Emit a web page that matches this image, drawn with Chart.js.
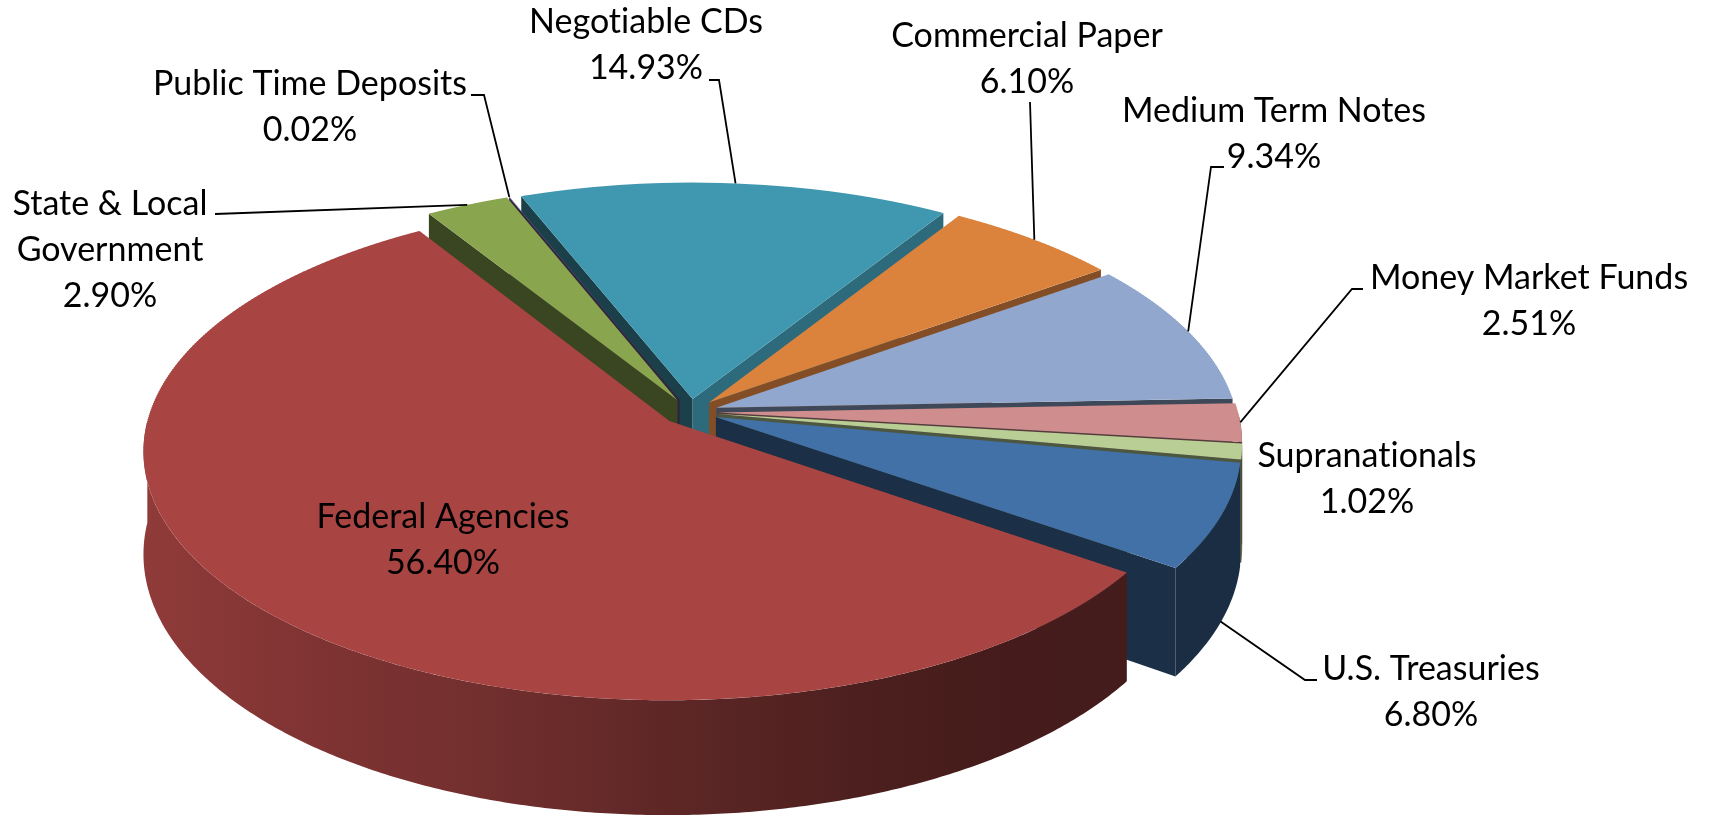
<!DOCTYPE html>
<html>
<head>
<meta charset="utf-8">
<title>Portfolio by security type</title>
<script src="https://cdn.jsdelivr.net/npm/chart.js@4.4.0/dist/chart.umd.min.js"></script>
<style>
  html, body { margin: 0; padding: 0; background: #fff; }
  #wrap { width: 1712px; height: 817px; }
</style>
</head>
<body>
<div id="wrap"><canvas id="chart" width="1712" height="817"></canvas></div>
<script>
// data, in the workbook's series order
const categories = [
    'U.S. Treasuries', 'Federal Agencies', 'State & Local\nGovernment', 'Public Time Deposits',
    'Negotiable CDs', 'Commercial Paper', 'Medium Term Notes', 'Money Market Funds', 'Supranationals'
];
const shares = [6.80, 56.40, 2.90, 0.02, 14.93, 6.10, 9.34, 2.51, 1.02];
const sliceColors = ['#4171A7', '#A84543', '#89A54E', '#71588F', '#4098B0', '#DB833D', '#91A7CE', '#CF8E8D', '#B8CE95'];

// 3d view: where the pie centre lands, tilt, perspective, thickness, explosion
const view = { cx: 690, cy: 412, kx: 1, ky: 0.47, persp: 4468, depth: 101, explode: 28 };
const STRIP = 2;

// shading of the round walls by screen x (lighter on the left)
const wallShade = [[140, 0.86], [300, 0.76], [480, 0.68], [667, 0.56], [850, 0.46], [1000, 0.41], [1250, 0.40]];

// label placement: text centre, first baseline, leader tick [from, elbow, y], anchor depth
const labelSpots = [
    { x: 1431, y: 680, tick: [1317, 1305, 680], z: 100 },
    { x: 443, y: 528 },
    { x: 110, y: 215, tick: [215, 215, 214], z: 0 },
    { x: 310, y: 95, tick: [471, 484, 95], z: 0 },
    { x: 646, y: 33, tick: [709, 719, 80], z: 0 },
    { x: 1027, y: 47, tick: [1030, 1030, 102], z: 0 },
    { x: 1274, y: 122, tick: [1224, 1211, 167], z: 0 },
    { x: 1529, y: 289, tick: [1363, 1352, 289], z: 0 },
    { x: 1367, y: 467 }
];
const LINE_H = 46;
const FONT = '34px Lato';

function hexToRgb(hex) {
    const n = parseInt(hex.slice(1), 16);
    return [(n >> 16) & 255, (n >> 8) & 255, n & 255];
}

function rgbStr(rgb, b) {
    return 'rgb(' + rgb.map(c => Math.round(c * b)).join(',') + ')';
}

// plane point (relative to pie centre) -> screen
function project(u, w, z) {
    const s = 1 / (1 - w / view.persp);
    return [view.cx + view.kx * u * s, view.cy + (view.ky * w + z) * s];
}

function sliceGeom(arc) {
    const mid = (arc.startAngle + arc.endAngle) / 2;
    return {
        a0: arc.startAngle,
        a1: arc.endAngle,
        mid: mid,
        r: arc.outerRadius,
        ox: Math.cos(mid) * view.explode,
        oy: Math.sin(mid) * view.explode
    };
}

function edgeShade(phi) {
    phi = ((phi % 360) + 360) % 360;
    if (phi < 124) return 0.7;
    if (phi < 180) return 0.42 + 0.28 * (180 - phi) / 56;
    return 0.42;
}

function drawWalls(ctx, geo) {
    const walls = [];
    const D = view.depth;

    geo.forEach((g, i) => {
        const rgb = hexToRgb(sliceColors[i]);

        // round outer wall, front part only
        const n = Math.max(2, Math.ceil((g.a1 - g.a0) / (Math.PI / 360)));
        const angles = [];
        for (let k = 0; k <= n; k++) {
            const t = g.a0 + (g.a1 - g.a0) * k / n;
            if (Math.sin(t) > 0) angles.push(t);
        }
        if (angles.length > 1) {
            const tm = angles[Math.floor(angles.length / 2)];
            walls.push({ key: g.oy + g.r * Math.sin(tm), draw: () => {
                const top = angles.map(t => project(g.ox + g.r * Math.cos(t), g.oy + g.r * Math.sin(t), 0));
                const bot = angles.map(t => project(g.ox + g.r * Math.cos(t), g.oy + g.r * Math.sin(t), D)).reverse();
                const grad = ctx.createLinearGradient(wallShade[0][0], 0, wallShade[wallShade.length - 1][0], 0);
                const span = wallShade[wallShade.length - 1][0] - wallShade[0][0];
                wallShade.forEach(([x, b]) => grad.addColorStop((x - wallShade[0][0]) / span, rgbStr(rgb, b)));
                ctx.fillStyle = grad;
                ctx.beginPath();
                top.concat(bot).forEach((p, k) => k ? ctx.lineTo(p[0], p[1]) : ctx.moveTo(p[0], p[1]));
                ctx.closePath();
                ctx.fill();
            }});
        }

        // flat cut walls seen through the gaps
        const edges = [];
        if (Math.cos(g.a0) < 0) edges.push({ ang: g.a0, phi: g.a0 * 180 / Math.PI });
        if (Math.cos(g.a1) > 0) edges.push({ ang: g.a1, phi: g.a1 * 180 / Math.PI + 180 });
        edges.forEach(e => {
            walls.push({ key: g.oy + g.r / 2 * Math.sin(e.ang), draw: () => {
                const cu = g.ox + g.r * Math.cos(e.ang), cw = g.oy + g.r * Math.sin(e.ang);
                const pts = [project(g.ox, g.oy, 0), project(cu, cw, 0), project(cu, cw, D), project(g.ox, g.oy, D)];
                ctx.fillStyle = rgbStr(rgb, edgeShade(e.phi));
                ctx.beginPath();
                pts.forEach((p, k) => k ? ctx.lineTo(p[0], p[1]) : ctx.moveTo(p[0], p[1]));
                ctx.closePath();
                ctx.fill();
            }});
        });
    });

    walls.sort((a, b) => a.key - b.key).forEach(w => w.draw());
}

// top faces: the library's own arcs, drawn in thin strips with the local perspective
function drawTops(chart, ctx, arcs, geo, dpr) {
    const x0 = arcs[0].x, y0 = arcs[0].y;
    const reach = arcs[0].outerRadius + view.explode + 4;
    const yTop = Math.floor(project(0, -reach, 0)[1]);
    const yBot = Math.ceil(project(0, reach, 0)[1]);

    for (let y = yTop; y < yBot; y += STRIP) {
        const ym = y + STRIP / 2;
        const dY = ym - view.cy;
        const w = dY / (view.ky + dY / view.persp);
        const s = 1 / (1 - w / view.persp);
        const a = view.kx * s, d = view.ky * s * s;

        ctx.save();
        ctx.setTransform(dpr, 0, 0, dpr, 0, 0);
        ctx.beginPath();
        ctx.rect(0, y, chart.width, STRIP);
        ctx.clip();
        ctx.setTransform(a * dpr, 0, 0, d * dpr, (view.cx - a * x0) * dpr, (ym - d * (y0 + w)) * dpr);
        arcs.forEach((arc, i) => {
            ctx.save();
            ctx.translate(geo[i].ox, geo[i].oy);
            arc.draw(ctx);
            ctx.restore();
        });
        ctx.restore();
    }
}

function drawLabels(chart) {
    const ctx = chart.ctx;
    const dpr = chart.currentDevicePixelRatio;
    const arcs = chart.getDatasetMeta(0).data;

    ctx.save();
    ctx.setTransform(dpr, 0, 0, dpr, 0, 0);
    ctx.font = FONT;
    // a tiny spacing keeps Lato from joining "ti"
    if ('letterSpacing' in ctx) ctx.letterSpacing = '0.01px';
    ctx.fillStyle = '#000';
    ctx.strokeStyle = '#000';
    ctx.lineWidth = 1.8;
    ctx.textAlign = 'center';
    ctx.textBaseline = 'alphabetic';

    arcs.forEach((arc, i) => {
        const spot = labelSpots[i];
        const lines = categories[i].split('\n').concat(shares[i].toFixed(2) + '%');
        lines.forEach((t, k) => ctx.fillText(t, spot.x, spot.y + k * LINE_H));

        if (spot.tick) {
            const g = sliceGeom(arc);
            const end = project(g.ox + g.r * Math.cos(g.mid), g.oy + g.r * Math.sin(g.mid), spot.z);
            ctx.beginPath();
            ctx.moveTo(spot.tick[0], spot.tick[2]);
            ctx.lineTo(spot.tick[1], spot.tick[2]);
            ctx.lineTo(end[0], end[1]);
            ctx.stroke();
        }
    });
    ctx.restore();
}

const pie3d = {
    id: 'pie3d',
    beforeDatasetsDraw(chart) {
        const ctx = chart.ctx;
        const dpr = chart.currentDevicePixelRatio;
        const arcs = chart.getDatasetMeta(0).data;
        const geo = arcs.map(sliceGeom);

        ctx.save();
        ctx.setTransform(dpr, 0, 0, dpr, 0, 0);
        drawWalls(ctx, geo);
        drawTops(chart, ctx, arcs, geo, dpr);
        ctx.restore();
        return false;
    },
    afterDraw(chart) {
        drawLabels(chart);
    }
};

new Chart(document.getElementById('chart'), {
    type: 'pie',
    data: {
        labels: categories,
        datasets: [{
            data: shares,
            backgroundColor: sliceColors,
            borderWidth: 0,
            rotation: 100.5,
            radius: 520,
            clip: false
        }]
    },
    options: {
        responsive: false,
        animation: false,
        events: [],
        rotation: 100.5,
        radius: 520,
        layout: { padding: 0 },
        plugins: {
            legend: { display: false },
            tooltip: { enabled: false }
        }
    },
    plugins: [pie3d]
});
</script>
</body>
</html>
